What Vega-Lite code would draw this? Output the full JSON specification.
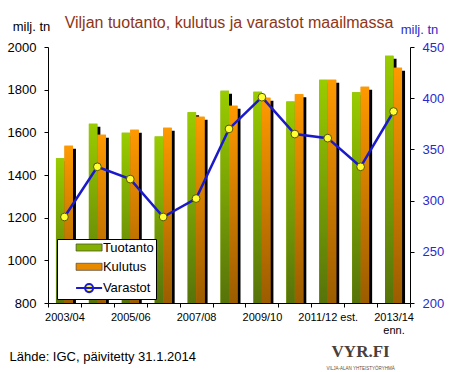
{
  "$schema": "https://vega.github.io/schema/vega-lite/v6.json",
  "width": 362,
  "height": 256,
  "autosize": {"type": "none"},
  "padding": {"left": 48, "top": 47, "right": 39, "bottom": 69},
  "background": "white",
  "title": {
    "text": "Viljan tuotanto,  kulutus  ja varastot maailmassa",
    "frame": "group",
    "anchor": "middle",
    "orient": "top",
    "offset": -5,
    "dy": 19,
    "baseline": "alphabetic",
    "fontSize": 16,
    "fontWeight": "normal",
    "color": "#8f3515",
    "font": "Liberation Sans"
  },
  "config": {
    "view": {"stroke": null},
    "font": "Liberation Sans",
    "axis": {"grid": false, "domainColor": "black", "tickColor": "black", "labelColor": "black", "titleFontWeight": "normal", "titleColor": "black"}
  },
  "datasets": {
    "bars": [
      {"year": "2003/04", "series": "Tuotanto", "value": 1478},
      {"year": "2004/05", "series": "Tuotanto", "value": 1640},
      {"year": "2005/06", "series": "Tuotanto", "value": 1598},
      {"year": "2006/07", "series": "Tuotanto", "value": 1580},
      {"year": "2007/08", "series": "Tuotanto", "value": 1694},
      {"year": "2008/09", "series": "Tuotanto", "value": 1795},
      {"year": "2009/10", "series": "Tuotanto", "value": 1790},
      {"year": "2010/11", "series": "Tuotanto", "value": 1744},
      {"year": "2011/12 est.", "series": "Tuotanto", "value": 1847},
      {"year": "2012/13", "series": "Tuotanto", "value": 1788},
      {"year": "2013/14 enn.", "series": "Tuotanto", "value": 1959},
      {"year": "2003/04", "series": "Kulutus", "value": 1537},
      {"year": "2004/05", "series": "Kulutus", "value": 1589},
      {"year": "2005/06", "series": "Kulutus", "value": 1612},
      {"year": "2006/07", "series": "Kulutus", "value": 1622},
      {"year": "2007/08", "series": "Kulutus", "value": 1673},
      {"year": "2008/09", "series": "Kulutus", "value": 1725},
      {"year": "2009/10", "series": "Kulutus", "value": 1762},
      {"year": "2010/11", "series": "Kulutus", "value": 1778},
      {"year": "2011/12 est.", "series": "Kulutus", "value": 1847},
      {"year": "2012/13", "series": "Kulutus", "value": 1814},
      {"year": "2013/14 enn.", "series": "Kulutus", "value": 1903}
    ],
    "stocks": [
      {"year": "2003/04", "value": 284},
      {"year": "2004/05", "value": 333},
      {"year": "2005/06", "value": 321},
      {"year": "2006/07", "value": 284},
      {"year": "2007/08", "value": 302},
      {"year": "2008/09", "value": 370},
      {"year": "2009/10", "value": 401},
      {"year": "2010/11", "value": 365},
      {"year": "2011/12 est.", "value": 361},
      {"year": "2012/13", "value": 333},
      {"year": "2013/14 enn.", "value": 387}
    ],
    "logo": [
      {"year": "2012/13", "value": 547, "t": "VYR.FI"}
    ],
    "tagline": [
      {"year": "2012/13", "value": 488, "t": "VILJA-ALAN YHTEISTYÖRYHMÄ"}
    ]
  },
  "encoding": {
    "x": {
      "field": "year",
      "type": "nominal",
      "scale": {
        "domain": ["2003/04", "2004/05", "2005/06", "2006/07", "2007/08", "2008/09", "2009/10", "2010/11", "2011/12 est.", "2012/13", "2013/14 enn."],
        "paddingInner": 0,
        "paddingOuter": 0
      },
      "axis": {
        "title": "Lähde: IGC,  päivitetty 31.1.2014",
        "titleX": -39,
        "titleY": 57,
        "titleAlign": "left",
        "titleAnchor": "start",
        "titleBaseline": "alphabetic",
        "titleFontSize": 13,
        "labelAngle": 0,
        "labelFontSize": 11,
        "labelPadding": 4,
        "tickBand": "extent",
        "tickSize": 4,
        "labelOverlap": false,
        "labelExpr": "(datum.value == '2003/04' || datum.value == '2005/06' || datum.value == '2007/08' || datum.value == '2009/10' || datum.value == '2011/12 est.') ? datum.value : (datum.value == '2013/14 enn.' ? ['2013/14', 'enn.'] : '')"
      }
    }
  },
  "layer": [
    {
      "data": {"name": "bars"},
      "encoding": {
        "y": {
          "field": "value",
          "type": "quantitative",
          "scale": {"domain": [800, 2000], "zero": false, "nice": false},
          "axis": {
            "values": [800, 1000, 1200, 1400, 1600, 1800, 2000],
            "format": "d",
            "title": "milj. tn",
            "titleAngle": 0,
            "titleX": -17,
            "titleY": -17,
            "titleAlign": "center",
            "titleBaseline": "alphabetic",
            "titleFontSize": 13,
            "labelFontSize": 13,
            "labelPadding": 8,
            "tickSize": 4
          }
        }
      },
      "layer": [
        {
          "transform": [{"filter": "datum.series === 'Tuotanto'"}],
          "mark": {"type": "bar", "width": 8.5, "xOffset": -1.25, "yOffset": 3, "color": "black"},
          "encoding": {"y2": {"datum": 800}}
        },
        {
          "transform": [{"filter": "datum.series === 'Kulutus'"}],
          "mark": {"type": "bar", "width": 8.5, "xOffset": 7.25, "yOffset": 3, "color": "black"},
          "encoding": {"y2": {"datum": 800}}
        },
        {
          "transform": [{"filter": "datum.series === 'Tuotanto'"}],
          "mark": {"type": "bar", "width": 8.5, "xOffset": -4.25},
          "encoding": {
            "y2": {"datum": 800},
            "color": {
              "field": "series",
              "type": "nominal",
              "scale": {"domain": ["Tuotanto", "Kulutus", "Varastot"], "range": ["#84b000", "#e88a00", "#ffff33"]},
              "legend": {
                "title": null,
                "orient": "none",
                "legendX": 9,
                "legendY": 192,
                "padding": 2,
                "fillColor": "white",
                "strokeColor": "black",
                "symbolSize": 200,
                "symbolOffset": 23.6,
                "labelOffset": 7.3,
                "rowPadding": 5.3,
                "labelFontSize": 13,
                "labelColor": "black",
                "labelExpr": "datum.label + '      '",
                "encode": {
                  "symbols": {
                    "update": {
                      "shape": {"signal": "datum.value === 'Varastot' ? 'M-1.84,0H1.84M0.57,0A0.57,0.57,0,1,1,-0.57,0A0.57,0.57,0,1,1,0.57,0' : 'M-1.84,-0.5H1.84V0.5H-1.84Z'"},
                      "stroke": {"signal": "datum.value === 'Varastot' ? '#1a1acc' : '#333333'"},
                      "strokeWidth": {"signal": "datum.value === 'Varastot' ? 2 : 0.6"},
                      "opacity": {"value": 1}
                    }
                  }
                }
              }
            }
          }
        },
        {
          "transform": [{"filter": "datum.series === 'Kulutus'"}],
          "mark": {"type": "bar", "width": 8.5, "xOffset": 4.25},
          "encoding": {
            "y2": {"datum": 800},
            "color": {"field": "series", "type": "nominal", "scale": {"domain": ["Tuotanto", "Kulutus", "Varastot"], "range": ["#84b000", "#e88a00", "#ffff33"]}}
          }
        },
        {
          "transform": [{"filter": "datum.series === 'Tuotanto'"}],
          "mark": {"type": "bar", "width": 8.5, "xOffset": -4.25, "color": {"gradient": "linear", "x1": 0, "y1": 0, "x2": 0, "y2": 1, "stops": [{"offset": 0, "color": "#99cc00"}, {"offset": 1, "color": "#56730a"}]}},
          "encoding": {"y2": {"datum": 800}}
        },
        {
          "transform": [{"filter": "datum.series === 'Kulutus'"}],
          "mark": {"type": "bar", "width": 8.5, "xOffset": 4.25, "color": {"gradient": "linear", "x1": 0, "y1": 0, "x2": 0, "y2": 1, "stops": [{"offset": 0, "color": "#ff9900"}, {"offset": 1, "color": "#9c5c00"}]}},
          "encoding": {"y2": {"datum": 800}}
        },
        {
          "data": {"name": "logo"},
          "mark": {"type": "text", "font": "Liberation Serif", "fontSize": 17, "fontWeight": "bold", "color": "#4a4038", "baseline": "alphabetic", "align": "center", "xOffset": 0},
          "encoding": {"text": {"field": "t"}}
        },
        {
          "data": {"name": "tagline"},
          "mark": {"type": "text", "fontSize": 4.5, "color": "#5a4f45", "baseline": "alphabetic", "align": "center"},
          "encoding": {"text": {"field": "t"}}
        }
      ]
    },
    {
      "data": {"name": "stocks"},
      "encoding": {
        "y": {
          "field": "value",
          "type": "quantitative",
          "scale": {"domain": [200, 450], "zero": false, "nice": false},
          "axis": {
            "orient": "right",
            "values": [200, 250, 300, 350, 400, 450],
            "title": "milj. tn",
            "titleAngle": 0,
            "titleX": 9,
            "titleY": -14,
            "titleAlign": "center",
            "titleBaseline": "alphabetic",
            "titleFontSize": 13,
            "titleColor": "#2a2acc",
            "labelColor": "#2a2acc",
            "labelFontSize": 13,
            "labelPadding": 8,
            "tickSize": 4
          }
        }
      },
      "layer": [
        {"mark": {"type": "line", "color": "#1a1acc", "strokeWidth": 2.5}},
        {"mark": {"type": "point", "filled": true, "fill": "#ffff33", "stroke": "#555500", "strokeWidth": 1, "size": 60, "opacity": 1}}
      ]
    }
  ],
  "resolve": {"scale": {"y": "independent"}}
}
